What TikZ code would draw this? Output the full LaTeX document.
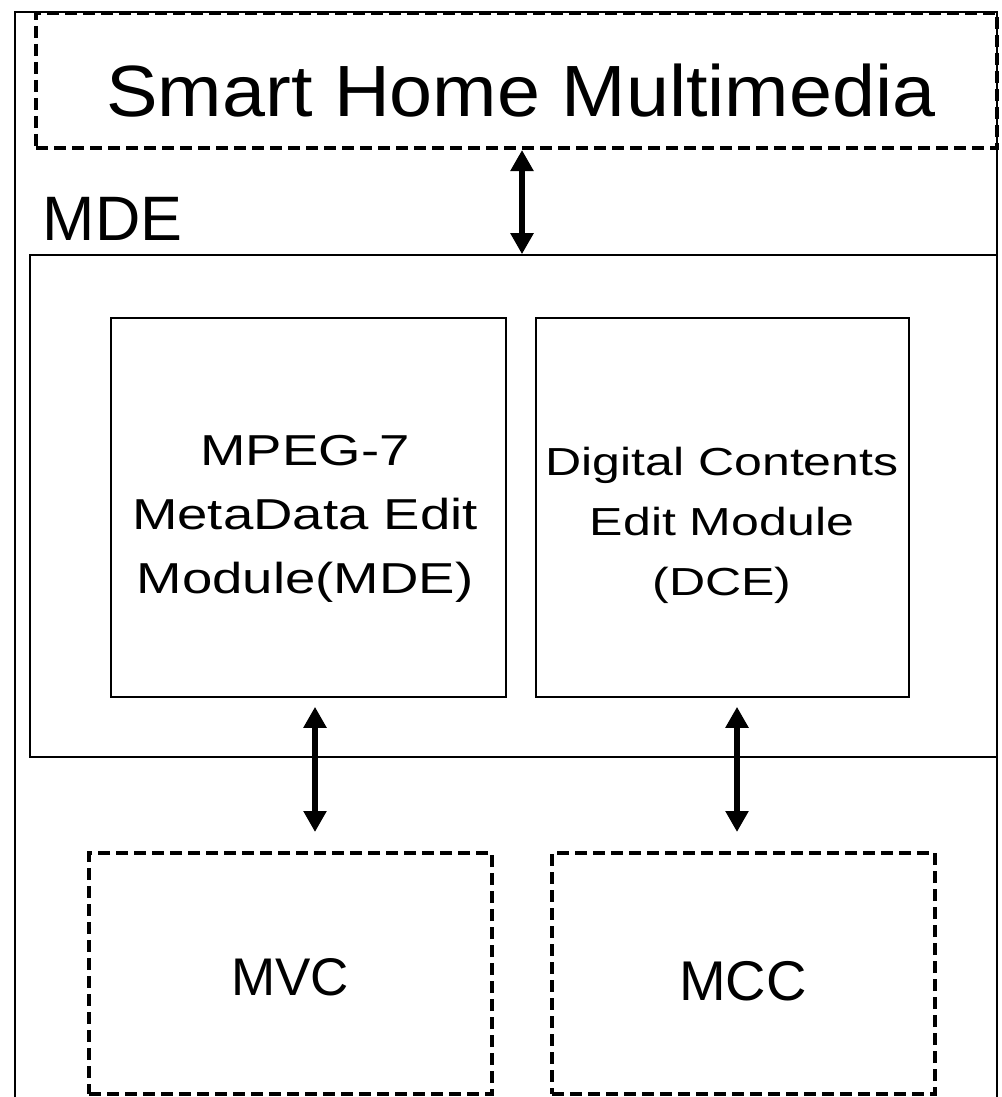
\documentclass[tikz,border=0pt]{standalone}
\usepackage{fontspec}
\setmainfont{Liberation Sans}
% horizontally widened cuts of the same face for the wide lettering
\newfontfamily\titlefont[FakeStretch=1.065]{Liberation Sans}
\newfontfamily\mpegfont[FakeStretch=1.26]{Liberation Sans}
\newfontfamily\dcefont[FakeStretch=1.28]{Liberation Sans}
\usetikzlibrary{arrows.meta}
\begin{document}
\begin{tikzpicture}[x=1pt,y=-1pt,
  thinline/.style={line width=1.6pt},
  dashbox/.style={draw, line width=4pt, dash pattern=on 12pt off 6pt,
    inner sep=0pt, minimum width=#1},
  solidbox/.style={draw, thinline, inner sep=0pt, minimum width=#1},
  txt/.style={inner sep=0pt, anchor=base, align=center},
  biarrow/.style={line width=5.5pt,
    {Triangle[width=22pt,length=21pt]}-{Triangle[width=22pt,length=21pt]}},
]
\clip (0,0) rectangle (1001,1097);
\fill[white] (0,0) rectangle (1001,1097);

% outer frame (open towards the bottom edge)
\draw[thinline] (15,12) rectangle (997,1130);

% top block
\node[dashbox=961pt, minimum height=135pt] (smh) at (516.5,80.5) {};
\node[txt, font=\titlefont\fontsize{72.6}{80}\selectfont] (smhtext) at (521,117)
  {Smart Home Multimedia};

% MDE container
\node[txt, anchor=base west, font=\fontsize{62.8}{70}\selectfont] (mdelabel)
  at (42.5,240) {MDE};
\node[solidbox=967pt, minimum height=502pt] (mde) at (513.5,506) {};

% inner modules (text anchored on the baseline of the last line)
\node[solidbox=395pt, minimum height=379pt] (b1) at (308.5,507.5) {};
\node[txt, font=\mpegfont\fontsize{43.3}{64}\selectfont] (b1text) at (305,593)
  {MPEG-7\\MetaData Edit\\Module(MDE)};
\node[solidbox=373pt, minimum height=379pt] (b2) at (722.5,507.5) {};
\node[txt, font=\dcefont\fontsize{39.1}{60}\selectfont] (b2text) at (722,595)
  {Digital Contents\\Edit Module\\(DCE)};

% lower blocks
\node[dashbox=403pt, minimum height=241pt] (mvc) at (290.5,973.5) {};
\node[txt, font=\fontsize{53}{60}\selectfont] (mvctext) at (290,995) {MVC};
\node[dashbox=383pt, minimum height=241pt] (mcc) at (743.5,973.5) {};
\node[txt, font=\fontsize{56}{60}\selectfont] (mcctext) at (743,1000) {MCC};

% connectors
\coordinate (ax0) at (522,0);
\coordinate (ax1) at (315,0);
\coordinate (ax2) at (737,0);
\draw[biarrow] (smh.south -| ax0) -- (mde.north -| ax0);
\draw[biarrow, shorten <=9pt, shorten >=19pt] (b1.south -| ax1) -- (mvc.north -| ax1);
\draw[biarrow, shorten <=9pt, shorten >=19pt] (b2.south -| ax2) -- (mcc.north -| ax2);
\end{tikzpicture}
\end{document}
